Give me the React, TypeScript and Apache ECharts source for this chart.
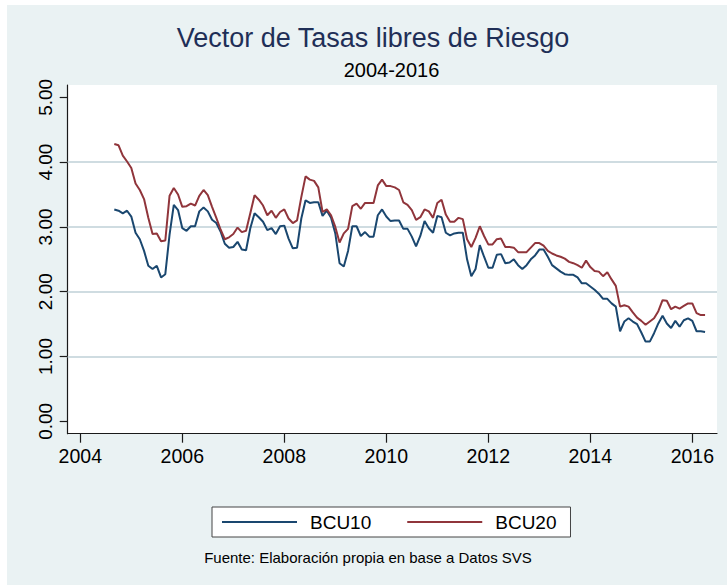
import React, { useEffect, useRef } from "react";
import * as echarts from "echarts";

// Monthly series, Sep 2004 .. Apr 2016
const START_YEAR = 2004;
const START_MONTH = 9;

const BCU10 = [
  3.27, 3.25, 3.21, 3.25, 3.16, 2.91, 2.81, 2.63, 2.40, 2.35,
  2.40, 2.22, 2.27, 2.88, 3.34, 3.26, 2.98, 2.94, 3.01, 3.01,
  3.24, 3.30, 3.24, 3.11, 3.06, 2.93, 2.74, 2.68, 2.69, 2.77,
  2.65, 2.64, 2.98, 3.21,
  3.15, 3.08, 2.95, 2.98, 2.89, 3.01, 3.02, 2.82, 2.67, 2.68,
  3.13, 3.41, 3.37, 3.38, 3.38, 3.17, 3.25, 3.14, 2.90, 2.44,
  2.39, 2.63, 3.01, 3.01, 2.86, 2.92, 2.85, 2.85, 3.18, 3.27,
  3.16, 3.09, 3.10, 3.10, 2.97,
  2.97, 2.85, 2.70, 2.86, 3.09, 2.98, 2.91, 3.17, 3.15, 2.91,
  2.87, 2.90, 2.91, 2.91, 2.50, 2.24, 2.35, 2.72, 2.54, 2.37,
  2.37, 2.57, 2.58, 2.44, 2.45, 2.50, 2.41, 2.35, 2.41, 2.50,
  2.56, 2.65, 2.65, 2.54, 2.41,
  2.36, 2.31, 2.27, 2.26, 2.26, 2.22, 2.13, 2.13, 2.08, 2.03,
  1.97, 1.89, 1.89, 1.82, 1.77, 1.39, 1.54, 1.59, 1.54, 1.50,
  1.37, 1.23, 1.23, 1.36, 1.51, 1.63, 1.51, 1.44, 1.55, 1.46,
  1.56, 1.59, 1.55, 1.39, 1.39, 1.38,
];

const BCU20 = [
  4.28, 4.26, 4.10, 4.01, 3.91, 3.67, 3.57, 3.43, 3.14, 2.89,
  2.90, 2.78, 2.79, 3.48, 3.60, 3.50, 3.31, 3.32, 3.36, 3.33,
  3.48, 3.57, 3.49, 3.31, 3.14, 2.96, 2.81, 2.84, 2.89, 2.99,
  2.92, 2.94, 3.21, 3.49,
  3.42, 3.33, 3.18, 3.25, 3.14, 3.23, 3.27, 3.13, 3.06, 3.10,
  3.46, 3.78, 3.73, 3.71, 3.61, 3.23, 3.27, 3.18, 3.00, 2.76,
  2.90, 2.97, 3.32, 3.36, 3.28, 3.37, 3.37, 3.37, 3.64, 3.73,
  3.63, 3.63, 3.61, 3.57, 3.38,
  3.34, 3.26, 3.11, 3.15, 3.27, 3.24, 3.14, 3.37, 3.42, 3.19,
  3.08, 3.08, 3.14, 3.12, 2.81, 2.69, 2.83, 3.01, 2.86, 2.73,
  2.73, 2.81, 2.82, 2.69, 2.69, 2.68, 2.61, 2.61, 2.61, 2.68,
  2.75, 2.75, 2.71, 2.63, 2.59,
  2.56, 2.54, 2.51, 2.46, 2.44, 2.41, 2.37, 2.48, 2.38, 2.32,
  2.31, 2.24, 2.30, 2.19, 2.09, 1.77, 1.79, 1.77, 1.68, 1.60,
  1.55, 1.49, 1.54, 1.59, 1.70, 1.87, 1.86, 1.73, 1.77, 1.74,
  1.78, 1.82, 1.82, 1.67, 1.64, 1.64,
];

const X_TICKS = [2004, 2006, 2008, 2010, 2012, 2014, 2016];
const Y_TICKS = [0, 1, 2, 3, 4, 5];
const GRID_LINES = [1, 2, 3, 4];

const TITLE = "Vector de Tasas libres de Riesgo";
const SUBTITLE = "2004-2016";
const SOURCE = "Fuente: Elaboración propia en base a Datos SVS";

const FONT = '"Liberation Sans", Arial, Helvetica, sans-serif';

const toPairs = (vals: number[]) =>
  vals.map((v, i) => [START_YEAR + (START_MONTH - 1 + i) / 12, v]);

export default function App() {
  const ref = useRef<HTMLDivElement>(null);

  useEffect(() => {
    if (!ref.current) return;
    const chart = echarts.init(ref.current, null, { renderer: "svg" });
    chart.setOption({
      animation: false,
      backgroundColor: "transparent",
      textStyle: { fontFamily: FONT },
      grid: {
        left: 67.7,
        right: 10,
        top: 85,
        bottom: 151.3,
        show: false,
        containLabel: false,
        outerBoundsMode: "none",
      },
      xAxis: {
        type: "value",
        min: 2003.753,
        max: 2016.484,
        axisLine: { show: true, onZero: false, lineStyle: { color: "#1a1a1a", width: 1.2 } },
        axisTick: {
          show: true,
          length: 9,
          customValues: X_TICKS,
          lineStyle: { color: "#1a1a1a", width: 1.2 },
        },
        axisLabel: {
          customValues: X_TICKS,
          margin: 12,
          fontSize: 19.5,
          fontFamily: FONT,
          color: "#000",
          formatter: (v: number) => String(v),
        },
        splitLine: { show: false },
      },
      yAxis: {
        type: "value",
        min: -0.191,
        max: 5.19,
        axisLine: { show: true, onZero: false, lineStyle: { color: "#1a1a1a", width: 1.2 } },
        axisTick: {
          show: true,
          length: 8,
          customValues: Y_TICKS,
          lineStyle: { color: "#1a1a1a", width: 1.2 },
        },
        axisLabel: {
          customValues: Y_TICKS,
          rotate: 90,
          margin: 13,
          fontSize: 19,
          fontFamily: FONT,
          color: "#000",
          formatter: (v: number) => v.toFixed(2),
        },
        splitLine: { show: false },
      },
      legend: {
        left: 212,
        top: 507,
        orient: "horizontal",
        data: ["BCU10", "BCU20"],
        icon: "rect",
        itemWidth: 75,
        itemHeight: 2,
        itemGap: 36,
        padding: [5, 14, 5, 10],
        backgroundColor: "#ffffff",
        borderColor: "#444444",
        borderWidth: 1,
        borderRadius: 0,
        selectedMode: false,
        textStyle: {
          fontFamily: FONT,
          fontSize: 19,
          color: "#000",
          lineHeight: 20,
          padding: [0, 0, 0, 8],
        },
      },
      graphic: [
        {
          type: "text",
          x: 373,
          y: 37.5,
          style: {
            text: TITLE,
            fill: "#1f2f57",
            font: `27px ${FONT}`,
            align: "center",
            verticalAlign: "middle",
          },
        },
        {
          type: "text",
          x: 391.5,
          y: 70,
          style: {
            text: SUBTITLE,
            fill: "#000",
            font: `20px ${FONT}`,
            align: "center",
            verticalAlign: "middle",
          },
        },
        {
          type: "text",
          x: 368,
          y: 557,
          style: {
            text: SOURCE,
            fill: "#000",
            font: `15px ${FONT}`,
            align: "center",
            verticalAlign: "middle",
          },
        },
      ],
      series: [
        {
          name: "BCU10",
          type: "line",
          data: toPairs(BCU10),
          showSymbol: false,
          symbol: "none",
          color: "#1a476f",
          lineStyle: { color: "#1a476f", width: 2 },
          z: 3,
          markLine: {
            z: 1,
            silent: true,
            symbol: ["none", "none"],
            label: { show: false },
            emphasis: { disabled: true },
            lineStyle: { color: "#CFDCE1", width: 2, type: "solid" },
            data: GRID_LINES.map((v) => ({ yAxis: v })),
          },
        },
        {
          name: "BCU20",
          type: "line",
          data: toPairs(BCU20),
          showSymbol: false,
          symbol: "none",
          color: "#90353b",
          lineStyle: { color: "#90353b", width: 2 },
          z: 3,
        },
      ],
    });
    return () => chart.dispose();
  }, []);

  return (
    <div
      style={{
        position: "fixed",
        left: 0,
        top: 0,
        width: 727,
        height: 585,
        background: "#ffffff",
      }}
    >
      <div
        style={{
          position: "absolute",
          left: 7,
          top: 5,
          right: 0,
          bottom: 0,
          background: "#EAF2F3",
        }}
      />
      <div
        style={{
          position: "absolute",
          left: 67.7,
          top: 85,
          width: 649.3,
          height: 348.7,
          background: "#ffffff",
        }}
      />
      <div
        ref={ref}
        style={{ position: "absolute", left: 0, top: 0, width: 727, height: 585 }}
      />
    </div>
  );
}
